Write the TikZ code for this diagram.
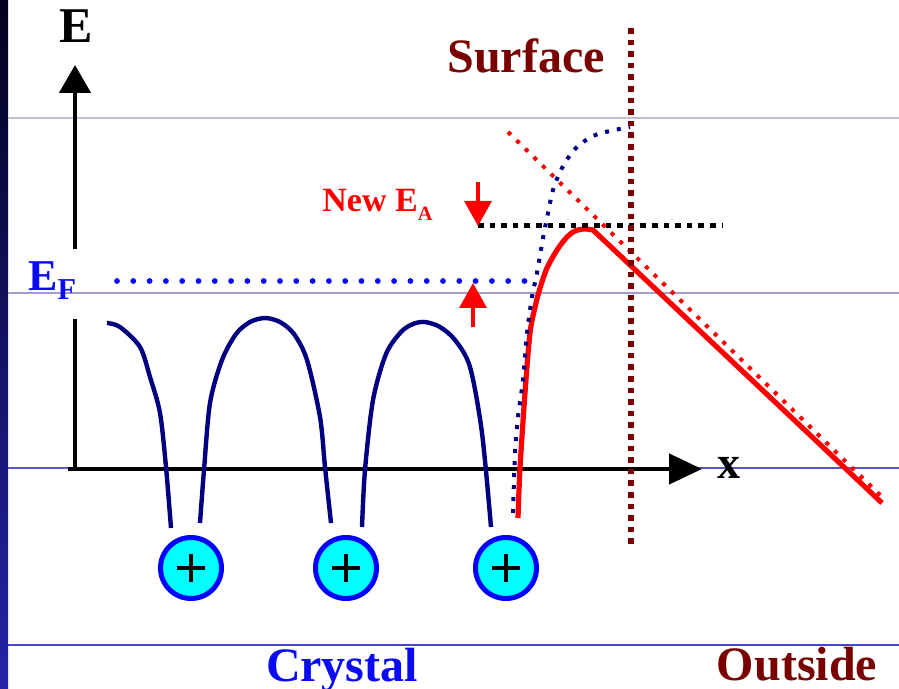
\documentclass[tikz,border=0pt]{standalone}
\usepackage{graphicx}
\usepackage{fontspec}
\setmainfont{Liberation Serif}
\usetikzlibrary{arrows.meta}
\definecolor{navy}{HTML}{000080}
\definecolor{efblue}{HTML}{0A0AF5}
\definecolor{darkred}{HTML}{7A0000}
\definecolor{ionedge}{HTML}{0000FF}
\definecolor{ionfill}{HTML}{00FFFF}
\definecolor{bartop}{HTML}{02021E}
\definecolor{barbot}{HTML}{2424A8}
\definecolor{ruleA}{HTML}{C4BCD6}
\definecolor{ruleB}{HTML}{A49CCA}
\definecolor{ruleC}{HTML}{5858C4}
\definecolor{ruleD}{HTML}{4444CC}
\newcommand{\lowsub}[3]{\raisebox{-#2}{\scalebox{#1}{#3}}}

\begin{document}
\begin{tikzpicture}[
  x=0.5pt, y=-0.5pt,
  lbl/.style={inner sep=0pt, font=\fontsize{#1}{#1}\selectfont\bfseries},
  axis/.style={draw=black, line width=2.3pt},
  well/.style={draw=navy, line width=2.2pt, line join=round},
  barrier/.style={draw=red, line width=2.6pt, line join=round},
  ptdots/.style={line width=2.9pt, line cap=round, dash pattern=on 0pt off 8.15pt},
  sqdots/.style={line width=2.8pt, dash pattern=on 2.8pt off 3pt},
  finedots/.style={line width=2pt, dash pattern=on 2pt off 4pt},
  redarrow/.style={draw=red, line width=1.7pt, -{Triangle[length=12.5pt,width=13.5pt]}},
  ion/.style={circle, draw=ionedge, fill=ionfill, line width=2.5pt,
              minimum size=30.5pt, inner sep=0pt,
              path picture={\draw[black, line width=1.7pt]
                (path picture bounding box.center) +(-7pt,0) -- +(7pt,0)
                (path picture bounding box.center) +(0,-7pt) -- +(0,7pt);}}
]
\useasboundingbox (0,0) rectangle (899,689);
\fill[white] (0,0) rectangle (899,689);

% slide background
\shade[top color=bartop, bottom color=barbot] (0,0) rectangle (8,689);
\foreach \yy/\cc in {118/ruleA,293/ruleB,468/ruleC,645/ruleD}
  \draw[\cc, line width=.6pt] (8,\yy) -- (899,\yy);

% axes
\coordinate (o) at (75,469);
\coordinate (ebot) at (75,319);
\coordinate (etail) at (75,249);
\coordinate (etip) at (75,65);
\coordinate (xstart) at (68,469);
\coordinate (xtip) at (702,469);
\draw[axis] (ebot) -- (o);
\draw[axis, -{Triangle[length=14pt,width=15.5pt]}] (etail) -- (etip);
\draw[axis, -{Triangle[length=16.5pt,width=15pt]}] (xstart) -- (xtip);
\node[lbl=25, anchor=base] (elbl) at (76,43) {E};
\node[lbl=23, anchor=base] (xlbl) at (729,478) {x};

% crystal potential
\draw[well] plot[smooth] coordinates {(107,323) (120,327) (140,347) (150,377) (160,413) (166,467) (171,528)};
\draw[well] plot[smooth] coordinates {(200,523) (204,470) (210,403) (222,360) (236,334) (250,322) (265,318) (280,322) (294,334) (307,360) (320,417) (325,467) (331,523)};
\draw[well] plot[smooth] coordinates {(362,527) (365,470) (373,400) (386,354) (401,332) (413,324) (425,322) (440,327) (455,340) (470,367) (482,433) (491,527)};

\foreach \n/\x in {1/191,2/346,3/506}
  \node[ion] (ion\n) at (\x,568) {};

% Fermi level
\coordinate (efl) at (117,281);
\coordinate (efr) at (530,281);
\draw[ptdots, efblue] (efl) -- (efr);
\node[lbl=22, text=efblue, anchor=base west] (eflbl) at (28,291) {E\lowsub{.69}{4.5pt}{F}};

% surface barrier
\coordinate (fa) at (508,132);
\coordinate (fb) at (882,497);
\draw[finedots, red] (fa) -- (fb);
\draw[barrier] plot[smooth] coordinates {(518,518) (520,468) (525,393) (530,333) (536,303) (541,285) (547,268) (557,250) (567,237) (575,231) (584,229) (593,230)} -- (882,503);
\draw[finedots, navy] plot[smooth] coordinates {(513,513) (515,453) (518,417) (523,380) (527,333) (532,297) (537,273) (543,238) (548,213) (553,190) (560,172) (568,158) (578,146) (593,136) (610,131) (630,127)};

\coordinate (ea) at (478,226);
\coordinate (eaend) at (722,226);
\draw[sqdots, black, line width=2.5pt] (ea) -- (eaend);

\coordinate (stop) at (631,28);
\coordinate (sbot) at (631,548);
\draw[sqdots, darkred] (stop) -- (sbot);
\node[lbl=24, text=darkred, anchor=base] (surflbl) at (526,73) {Surface};

% new work function
\coordinate (eatail) at (478,182);
\coordinate (ef) at (473,283);
\coordinate (eftail) at (473,327);
\draw[redarrow] (eatail) -- (ea);
\draw[redarrow] (eftail) -- (ef);
\node[lbl=17, text=red, anchor=base west] (ealbl) at (322,212) {New E\lowsub{.6}{4.5pt}{A}};

\node[lbl=24, text=efblue, anchor=base] (crystal) at (342,681) {Crystal};
\node[lbl=24, text=darkred, anchor=base] (outside) at (797,680) {Outside};

\end{tikzpicture}
\end{document}
